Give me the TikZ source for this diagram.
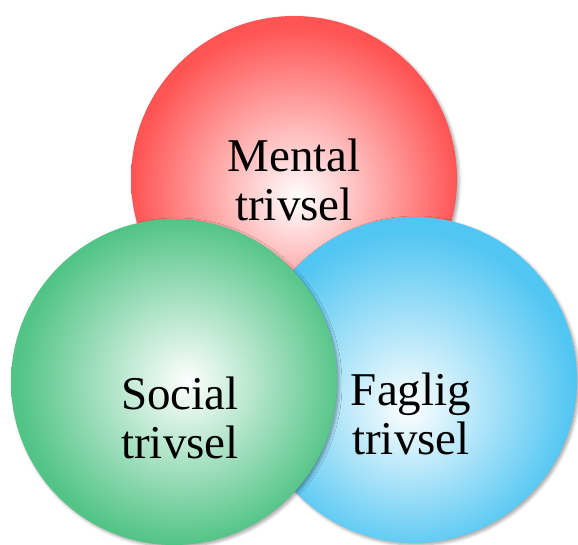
\documentclass[tikz,border=0pt]{standalone}
\usepackage{fontspec}
\setmainfont{Liberation Serif}
\usetikzlibrary{shadows.blur}

\definecolor{mentalred}{RGB}{255,84,84}
\definecolor{socialgreen}{RGB}{82,196,134}
\definecolor{fagligblue}{RGB}{82,198,242}

\pgfdeclareradialshading{mentalshade}{\pgfpoint{0.5bp}{-3bp}}{color(0bp)=(white); color(25bp)=(mentalred); color(50bp)=(mentalred)}
\pgfdeclareradialshading{socialshade}{\pgfpoint{2bp}{0bp}}{color(0bp)=(white); color(25bp)=(socialgreen); color(50bp)=(socialgreen)}
\pgfdeclareradialshading{fagligshade}{\pgfpoint{-1bp}{-4.5bp}}{color(0bp)=(white); color(25bp)=(fagligblue); color(50bp)=(fagligblue)}

\begin{document}
\begin{tikzpicture}[x=1pt, y=-1pt,
        ball/.style={circle, minimum size=326pt, inner sep=0pt,
            blur shadow={shadow xshift=2pt, shadow yshift=-2pt, shadow blur steps=6, shadow blur radius=3pt, shadow opacity=35}},
        balltext/.style={align=center, inner sep=0pt, font=\fontsize{47}{49}\selectfont}]
        \useasboundingbox (0,0) rectangle (578,545);
        \node[ball, shading=mentalshade] (mental) at (294,179) {};
        \node[ball, shading=fagligshade] (faglig) at (414,380) {};
        \node[ball, shading=socialshade] (social) at (174,382) {};
        \node[balltext] (mentaltxt) at ([yshift=-1pt]mental.center) {Mental\\trivsel};
        \node[balltext] (socialtxt) at ([xshift=6pt, yshift=-36pt]social.center) {Social\\trivsel};
        \node[balltext] (fagligtxt) at ([xshift=-3pt, yshift=-34pt]faglig.center) {Faglig\\trivsel};
    \end{tikzpicture}
\end{document}
